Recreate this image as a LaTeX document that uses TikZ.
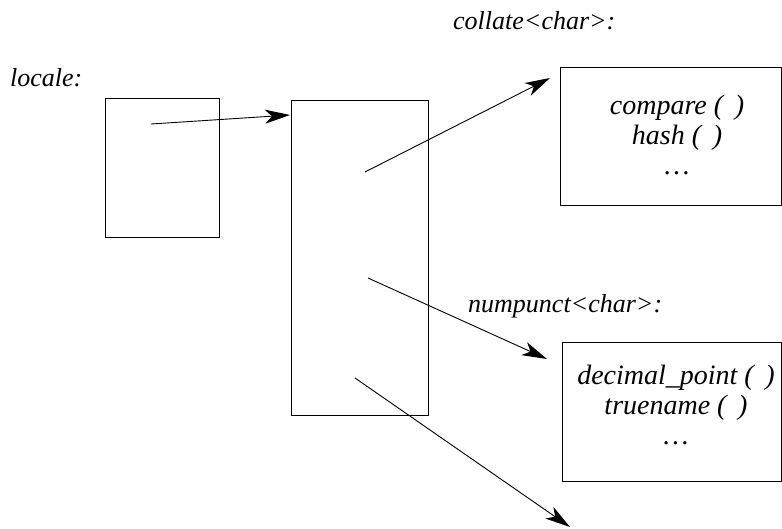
\documentclass[tikz,border=0pt]{standalone}
\usepackage{fontspec}
\setmainfont{Liberation Serif}
\usetikzlibrary{arrows.meta}
\begin{document}
\begin{tikzpicture}[x=1pt,y=-1pt,
  box/.style={draw,line width=0.9pt,inner sep=0pt},
  lbl/.style={font=\fontsize{26}{30}\selectfont\itshape,inner sep=0pt},
  txt/.style={font=\fontsize{28}{30}\selectfont\itshape,inner sep=0pt,align=center},
  arr/.style={line width=0.9pt,-{Stealth[length=25pt,width=14pt,inset=7pt]}}]
\useasboundingbox (0,0) rectangle (782,528);
\node[box,minimum width=114pt,minimum height=139pt] (loc) at (162,167.5) {};
\node[box,minimum width=137pt,minimum height=315pt] (mid) at (359.5,257.5) {};
\node[box,minimum width=221pt,minimum height=138pt] (col) at (670.5,136) {};
\node[box,minimum width=219pt,minimum height=139pt] (num) at (671.5,411.5) {};
\node[lbl,anchor=west] (llocale) at (10,78) {locale:};
\node[lbl,anchor=west] (lcol) at (453,21) {collate<char>:};
\node[lbl,anchor=west] (lnum) at (468,306) {numpunct<char>:};
\node[txt] (tcol) at (677,135) {compare ( \,)\\hash ( \,)\\\ldots};
\node[txt] (tnum) at (676,405) {decimal\_point ( \,)\\truename ( \,)\\\ldots};
\coordinate (s0) at (151,124);
\coordinate (e0) at (290,115);
\coordinate (s1) at (365,172);
\coordinate (e1) at (550,78);
\coordinate (s2) at (368,278);
\coordinate (e2) at (547,359);
\coordinate (s3) at (355,378);
\coordinate (e3) at (570,527);
\draw[arr] (s0) -- (e0);
\draw[arr] (s1) -- (e1);
\draw[arr] (s2) -- (e2);
\draw[arr] (s3) -- (e3);
\end{tikzpicture}
\end{document}
